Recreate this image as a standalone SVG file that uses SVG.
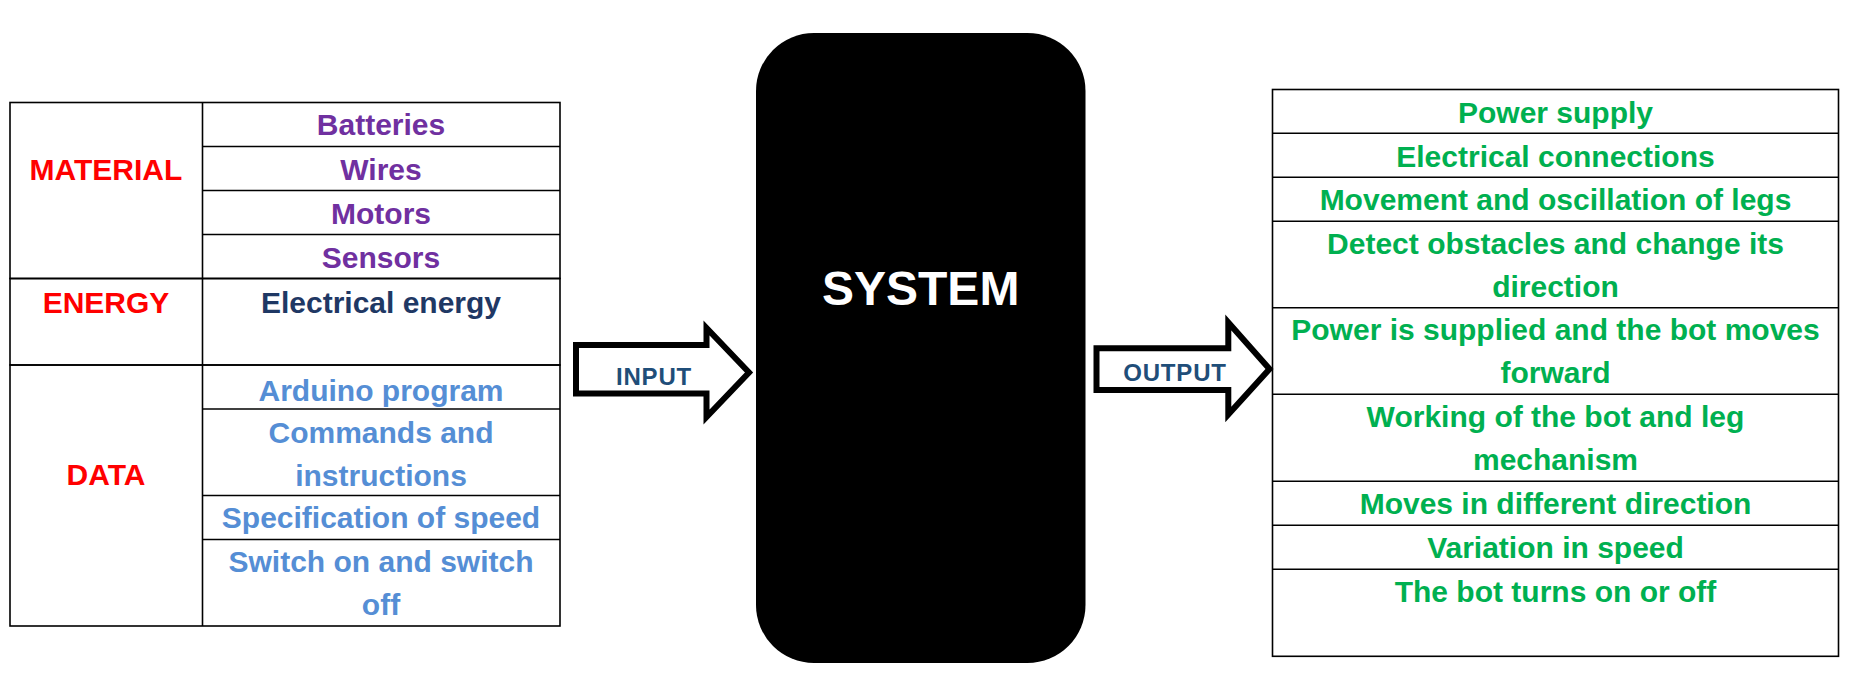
<svg xmlns="http://www.w3.org/2000/svg" width="1853" height="687" viewBox="0 0 1853 687">
<style>
  text { font-family: "Liberation Sans", Arial, sans-serif; font-weight: bold; text-anchor: middle; }
  .t { font-size: 30px; }
  .cat { fill: #FF0000; }
  .mat { fill: #7030A0; }
  .nrg { fill: #1F3864; }
  .dat { fill: #558ED5; }
  .out { fill: #00B050; }
  .grid { stroke: #000; stroke-width: 1.6; fill: none; }
  .arrow { fill: #fff; stroke: #000; stroke-width: 6; stroke-linejoin: miter; stroke-miterlimit: 10; }
  .lbl { font-size: 24px; fill: #1F4E79; letter-spacing: 0.8px; }
</style>
<rect width="1853" height="687" fill="#fff"/>

<g id="input-table">
  <g id="material">
    <rect class="grid" x="10" y="102.5" width="550" height="176"/>
    <line class="grid" x1="202.5" y1="102.5" x2="202.5" y2="278.5"/>
    <line class="grid" x1="202.5" y1="146.5" x2="560" y2="146.5"/>
    <line class="grid" x1="202.5" y1="190.5" x2="560" y2="190.5"/>
    <line class="grid" x1="202.5" y1="234.5" x2="560" y2="234.5"/>
    <text class="t cat" x="106" y="179.5">MATERIAL</text>
    <text class="t mat" x="381" y="135">Batteries</text>
    <text class="t mat" x="381" y="179.5">Wires</text>
    <text class="t mat" x="381" y="223.5">Motors</text>
    <text class="t mat" x="381" y="267.5">Sensors</text>
  </g>
  <g id="energy">
    <rect class="grid" x="10" y="278.5" width="550" height="86.5"/>
    <line class="grid" x1="202.5" y1="278.5" x2="202.5" y2="365"/>
    <text class="t cat" x="106" y="312.5">ENERGY</text>
    <text class="t nrg" x="381" y="312.5">Electrical energy</text>
  </g>
  <g id="data">
    <rect class="grid" x="10" y="365" width="550" height="261"/>
    <line class="grid" x1="202.5" y1="365" x2="202.5" y2="626"/>
    <line class="grid" x1="202.5" y1="409" x2="560" y2="409"/>
    <line class="grid" x1="202.5" y1="495.5" x2="560" y2="495.5"/>
    <line class="grid" x1="202.5" y1="539.5" x2="560" y2="539.5"/>
    <text class="t cat" x="106" y="484.5">DATA</text>
    <text class="t dat" x="381" y="400.5">Arduino program</text>
    <text class="t dat" x="381" y="443">Commands and</text>
    <text class="t dat" x="381" y="485.5">instructions</text>
    <text class="t dat" x="381" y="528">Specification of speed</text>
    <text class="t dat" x="381" y="572">Switch on and switch</text>
    <text class="t dat" x="381" y="614.5">off</text>
  </g>
</g>

<g id="system">
  <rect x="756" y="33" width="329.5" height="630" rx="58" ry="58" fill="#000"/>
  <text x="920.7" y="305" font-size="48" fill="#fff">SYSTEM</text>
</g>

<g id="connectors">
  <g id="input-arrow">
    <path class="arrow" d="M576,345 H706.5 V328 L749,372.5 L706.5,417 V393.5 H576 Z"/>
    <text class="lbl" x="654" y="385">INPUT</text>
  </g>
  <g id="output-arrow">
    <path class="arrow" d="M1096.5,348.3 H1228.3 V322.5 L1269.5,369 L1228.3,414.5 V390 H1096.5 Z"/>
    <text class="lbl" x="1175" y="380.7">OUTPUT</text>
  </g>
</g>

<g id="output-table">
  <rect class="grid" x="1272.5" y="89.5" width="566" height="566.8"/>
  <line class="grid" x1="1272.5" y1="133.3" x2="1838.5" y2="133.3"/>
  <line class="grid" x1="1272.5" y1="177.3" x2="1838.5" y2="177.3"/>
  <line class="grid" x1="1272.5" y1="221.3" x2="1838.5" y2="221.3"/>
  <line class="grid" x1="1272.5" y1="307.7" x2="1838.5" y2="307.7"/>
  <line class="grid" x1="1272.5" y1="394.3" x2="1838.5" y2="394.3"/>
  <line class="grid" x1="1272.5" y1="481.3" x2="1838.5" y2="481.3"/>
  <line class="grid" x1="1272.5" y1="525.3" x2="1838.5" y2="525.3"/>
  <line class="grid" x1="1272.5" y1="569.3" x2="1838.5" y2="569.3"/>
  <text class="t out" x="1555.5" y="122.7">Power supply</text>
  <text class="t out" x="1555.5" y="166.7">Electrical connections</text>
  <text class="t out" x="1555.5" y="210">Movement and oscillation of legs</text>
  <text class="t out" x="1555.5" y="254">Detect obstacles and change its</text>
  <text class="t out" x="1555.5" y="296.7">direction</text>
  <text class="t out" x="1555.5" y="340">Power is supplied and the bot moves</text>
  <text class="t out" x="1555.5" y="382.7">forward</text>
  <text class="t out" x="1555.5" y="427.3">Working of the bot and leg</text>
  <text class="t out" x="1555.5" y="470">mechanism</text>
  <text class="t out" x="1555.5" y="514">Moves in different direction</text>
  <text class="t out" x="1555.5" y="558">Variation in speed</text>
  <text class="t out" x="1555.5" y="601.7">The bot turns on or off</text>
</g>
</svg>
